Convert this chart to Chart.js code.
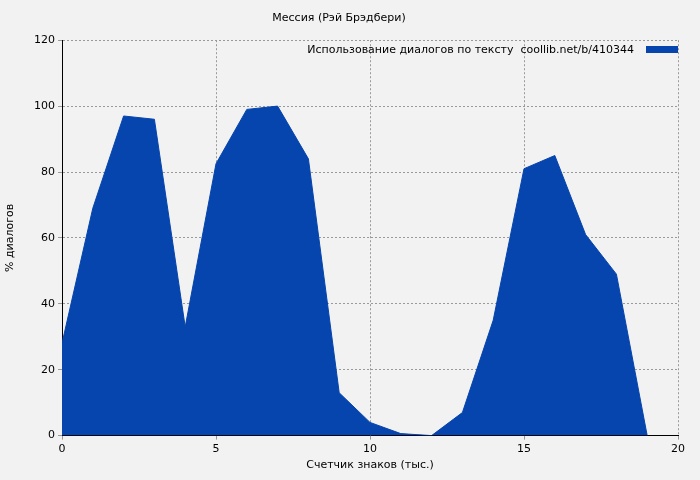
<!DOCTYPE html>
<html><head><meta charset="utf-8">
<script src="https://cdn.jsdelivr.net/npm/chart.js@4"></script>
<style>html,body{margin:0;background:#f2f2f2}#w{width:700px;height:480px}</style>
</head><body><div id="w"><canvas id="c"></canvas></div>
<script>
const xValues=[0,1,2,3,4,5,6,7,8,9,10,11,12,13,14,15,16,17,18,19];
const dialogPct=[28,69,97,96,33,82.5,99,100,84,13,4,0.6,0,7,35,81,85,61,49,0];
const seriesLabel="Использование диалогов по тексту  coollib.net/b/410344";
const titleText="Мессия (Рэй Брэдбери)";
const xTitle="Счетчик знаков (тыс.)";
const yTitle="% диалогов";
const F="DejaVu Sans";
const legendPlugin={id:'lg',afterDraw(ch){const a=ch.chartArea,c=ch.ctx;c.save();c.font="11px '"+F+"'";c.fillStyle='#000';c.textAlign='right';c.textBaseline='middle';c.fillText(seriesLabel,a.right-44,50);c.fillStyle='#0645ad';c.fillRect(a.right-46+14,46,32,7);c.restore();}};
new Chart(document.getElementById('c'),{type:'line',
data:{datasets:[{label:seriesLabel,data:xValues.map((x,i)=>({x,y:dialogPct[i]})),fill:'origin',backgroundColor:'#0645ad',borderColor:'#0645ad',borderWidth:1,pointRadius:0,tension:0}]},
options:{responsive:true,maintainAspectRatio:false,animation:false,
layout:{padding:{top:0,right:22,bottom:4,left:0}},
plugins:{legend:{display:false},tooltip:{enabled:false},
title:{display:true,text:titleText,color:'#000',font:{family:F,size:11,weight:'normal'},padding:{top:12,bottom:15}}},
scales:{
x:{type:'linear',min:0,max:20,ticks:{stepSize:5,color:'#000',font:{family:F,size:11},maxRotation:0},
grid:{color:'#999',drawTicks:true,tickLength:4},border:{dash:[2,2],color:'#000'},
title:{display:true,text:xTitle,color:'#000',font:{family:F,size:11},padding:{top:0}}},
y:{min:0,max:120,ticks:{stepSize:20,color:'#000',font:{family:F,size:11}},
grid:{color:'#999',tickLength:4},border:{dash:[2,2],color:'#000'},
afterFit(s){s.width=62;},
title:{display:true,text:yTitle,color:'#000',font:{family:F,size:11}}}}},
plugins:[legendPlugin,{id:'bg',beforeDraw(ch){const c=ch.ctx;c.save();c.fillStyle='#f2f2f2';c.fillRect(0,0,ch.width,ch.height);c.restore();}}]});
</script></body></html>
